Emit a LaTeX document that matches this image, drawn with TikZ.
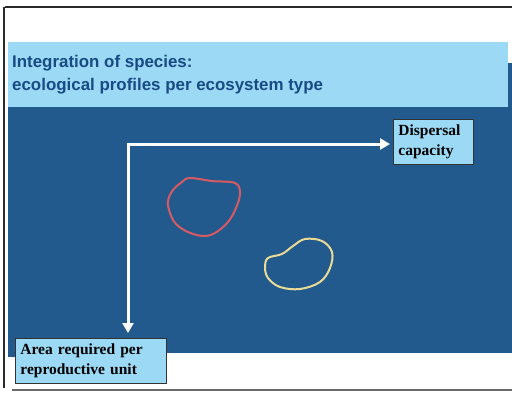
\documentclass[tikz,border=0pt]{standalone}
\usepackage{fontspec}
\setmainfont{Liberation Serif}
\setsansfont{Liberation Sans}
\usetikzlibrary{arrows.meta}
\definecolor{panelblue}{HTML}{225A8E}
\definecolor{bandblue}{HTML}{9CD9F4}
\definecolor{titleblue}{HTML}{184B84}
\definecolor{framegray}{HTML}{2A2A2A}
\definecolor{blobred}{HTML}{D65A62}
\definecolor{blobyellow}{HTML}{E9DB95}
\tikzset{
  axis/.style={draw=white, line width=3pt, -{Triangle[width=11pt,length=10pt]}},
  labelbox/.style={draw=black!80, line width=0.8pt, fill=bandblue, align=left,
    inner xsep=5pt, inner ysep=2pt, text=black,
    font=\bfseries\fontsize{15.5}{20}\selectfont},
  titleline/.style={anchor=base west, inner sep=0pt, text=titleblue,
    font=\sffamily\bfseries\fontsize{16.9}{20}\selectfont},
  profile/.style={line width=2pt, line join=round},
}
\begin{document}
\begin{tikzpicture}[x=1pt,y=-1pt]
\useasboundingbox (0,0) rectangle (512,392);
\fill[white] (0,0) rectangle (512,392);
% slide panels
\fill[panelblue] (8,63) rectangle (512,353);
\fill[panelblue] (8,100) rectangle (16,357);
\fill[bandblue] (8,42) rectangle (508,107);
% page frame
\draw[framegray, line width=1.2pt] (5,7) -- (512,7);
\draw[framegray, line width=2pt] (4,7) -- (4,388);
\draw[framegray!70, line width=1.2pt] (12,390) -- (512,390);
% title
\node[titleline] (title1) at (12,67) {Integration of species:};
\node[titleline] (title2) at (12,90) {ecological profiles per ecosystem type};
% axis labels
\node[labelbox, text width=70pt, minimum height=45pt, anchor=north west] (disp) at (393,119)
  {Dispersal\\capacity};
\node[labelbox, text width=141pt, minimum height=45pt, anchor=north west] (area) at (15,338)
  {Area required per\\reproductive unit};
% axes
\coordinate (origin) at (128,144);
\coordinate (xend) at (390,144);
\coordinate (yend) at (128,333);
\draw[axis] ([xshift=-1.5pt]origin) -- (xend);
\draw[axis] ([yshift=-1.5pt]origin) -- (yend);
% species profiles
\draw[profile, blobred] plot[smooth cycle, tension=0.6] coordinates {
  (190,178) (212,181) (235,183) (240,193) (236,208) (228,222)
  (215,233) (203,236) (188,232) (176,224) (170,213) (168,201)
  (173,190) (182,182)};
\draw[profile, blobyellow] plot[smooth cycle, tension=0.6] coordinates {
  (268,258) (282,254) (293,246) (305,239) (322,241) (332,252)
  (330,268) (320,282) (300,289) (280,287) (268,278) (265,267)};
\end{tikzpicture}
\end{document}
